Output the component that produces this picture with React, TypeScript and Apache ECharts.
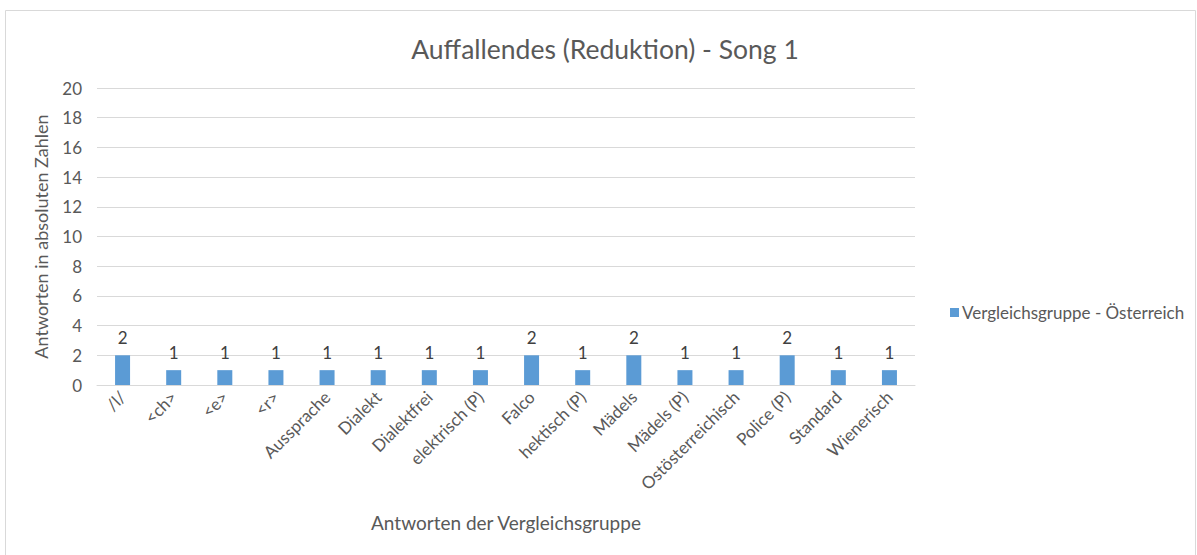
import React, { useEffect, useRef } from "react";
import * as echarts from "echarts";

const categories = ["/l/", "<ch>", "<e>", "<r>", "Aussprache", "Dialekt", "Dialektfrei", "elektrisch (P)", "Falco", "hektisch (P)", "Mädels", "Mädels (P)", "Ostösterreichisch", "Police (P)", "Standard", "Wienerisch"];
const values = [2, 1, 1, 1, 1, 1, 1, 1, 2, 1, 2, 1, 1, 2, 1, 1];
const seriesName = "Vergleichsgruppe - Österreich";
const titleText = "Auffallendes (Reduktion) - Song 1";
const yAxisName = "Antworten in absoluten Zahlen";
const xAxisName = "Antworten der Vergleichsgruppe";

const FONT = "Lato, 'Open Sans', sans-serif";

export default function App() {
  const ref = useRef<HTMLDivElement>(null);
  useEffect(() => {
    document.body.style.margin = "0";
    const chart = echarts.init(ref.current!, null, { renderer: "svg" });
    chart.setOption({
      animation: false,
      textStyle: { fontFamily: FONT },
      title: {
        text: titleText,
        left: 600,
        top: 30,
        textAlign: "center",
        textStyle: { fontSize: 26.5, fontWeight: "normal", color: "#595959", fontFamily: FONT },
      },
      graphic: [
        {
          type: "rect",
          shape: { x: 5.5, y: 10.5, width: 1190, height: 560 },
          style: { fill: "none", stroke: "#d9d9d9", lineWidth: 1 },
          silent: true,
        },
      ],
      legend: {
        left: 945,
        top: 299,
        itemWidth: 9,
        itemHeight: 9,
        itemGap: 5,
        icon: "rect",
        textStyle: { fontSize: 17, color: "#595959", fontFamily: FONT, padding: [0, 0, 0, -2] },
        data: [seriesName],
      },
      grid: { left: 97, right: 282, top: 88, bottom: 170, containLabel: false },
      xAxis: {
        type: "category",
        data: categories,
        name: xAxisName,
        nameLocation: "middle",
        nameGap: 128,
        nameTextStyle: { fontSize: 19, color: "#595959", fontFamily: FONT },
        axisLine: { lineStyle: { color: "#d9d9d9", width: 1 } },
        axisTick: { show: false },
        axisLabel: { rotate: 45, fontSize: 17, color: "#595959", margin: 9, interval: 0, fontFamily: FONT },
      },
      yAxis: {
        type: "value",
        min: 0,
        max: 20,
        interval: 2,
        name: yAxisName,
        nameLocation: "middle",
        nameGap: 47,
        nameRotate: 90,
        nameTextStyle: { fontSize: 18, color: "#595959", fontFamily: FONT },
        axisLine: { show: false },
        axisTick: { show: false },
        axisLabel: { fontSize: 17, color: "#595959", margin: 15, fontFamily: FONT },
        splitLine: { lineStyle: { color: "#d9d9d9", width: 1 } },
      },
      series: [
        {
          name: seriesName,
          type: "bar",
          data: values,
          barWidth: 15,
          itemStyle: { color: "#5b9bd5" },
          label: { show: true, position: "top", fontSize: 17, color: "#404040", distance: 9, fontFamily: FONT },
        },
      ],
    });
    return () => chart.dispose();
  }, []);
  return <div ref={ref} style={{ width: 1197, height: 555 }} />;
}
